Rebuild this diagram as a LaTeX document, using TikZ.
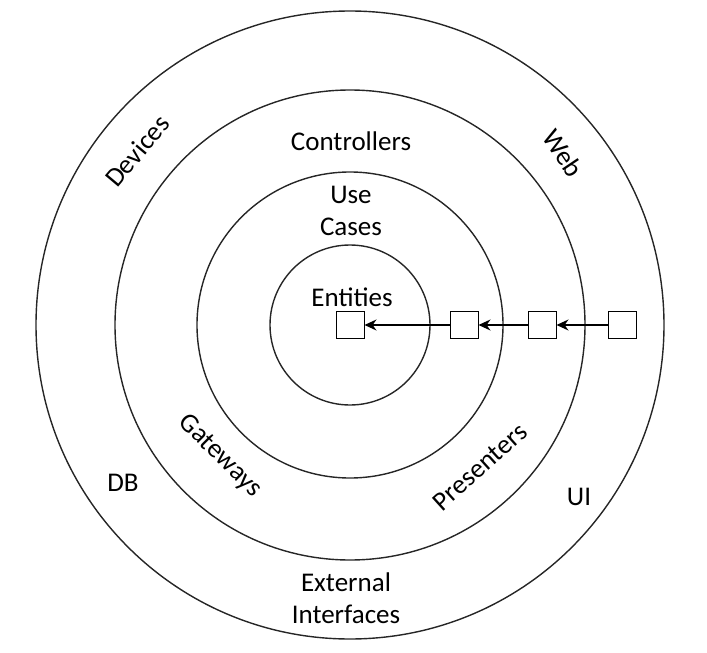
\documentclass[tikz,border=0pt]{standalone}
\usepackage{fontspec}
\setmainfont{Carlito}
\usetikzlibrary{arrows.meta}

\begin{document}
\begin{tikzpicture}[x=1pt, y=-1pt,
    ring/.style={line width=1.4pt, black!85},
    box/.style={draw, line width=1pt, fill=white, minimum width=28pt, minimum height=27pt, inner sep=0pt},
    lbl/.style={font=\fontsize{27}{32}\selectfont, align=center, inner sep=0pt},
    dep/.style={line width=1.4pt, -{Stealth[length=12pt, width=11pt]}}]
            \useasboundingbox (0, 0) rectangle (707, 653);

            % Rings
            \draw[ring] (350, 325) circle[radius=314pt];
            \draw[ring] (350, 325) circle[radius=235pt];
            \draw[ring] (350, 325) circle[radius=153pt];
            \draw[ring] (350, 325) circle[radius=80pt];

            % Labels
            \node (Ent) at (352, 297) [lbl] {Entities};
            \node (Use) at (351, 211) [lbl] {Use\\Cases};
            \node (Ctl) at (351, 141) [lbl] {Controllers};
            \node (Dev) at (137, 151) [lbl, rotate=50] {Devices};
            \node (Web) at (563, 153) [lbl, rotate=-56] {Web};
            \node (Gat) at (220, 456) [lbl, rotate=-45] {Gateways};
            \node (Pre) at (480, 467) [lbl, rotate=42] {Presenters};
            \node (DB) at (123, 483) [lbl] {DB};
            \node (UI) at (579, 497) [lbl] {UI};
            \node (Ext) at (346, 598) [lbl] {External\\Interfaces};

            % Boxes
            \node (B1) at (350, 325) [box] {};
            \node (B2) at (464, 325) [box] {};
            \node (B3) at (542, 325) [box] {};
            \node (B4) at (622, 325) [box] {};

            % Dependencies point inwards
            \draw[dep] (B2) -- (B1);
            \draw[dep] (B3) -- (B2);
            \draw[dep] (B4) -- (B3);
        \end{tikzpicture}
\end{document}
